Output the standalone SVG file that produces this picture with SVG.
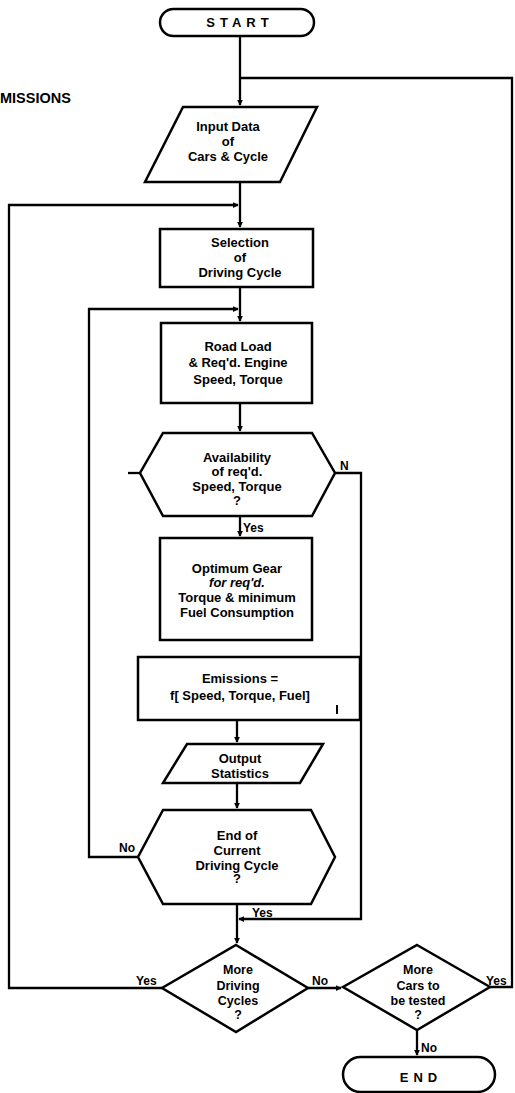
<svg xmlns="http://www.w3.org/2000/svg" width="515" height="1093" viewBox="0 0 515 1093">
<defs>
<style>
.s{fill:#fff;stroke:#000;stroke-width:2.5;stroke-linejoin:miter}
.c{fill:none;stroke:#000;stroke-width:2.3}
.t{font-family:"Liberation Sans",Arial,sans-serif;font-weight:bold;font-size:13px;text-anchor:middle;fill:#000}
.d{font-size:12.5px}
.i{font-style:italic}
.l{font-family:"Liberation Sans",Arial,sans-serif;font-weight:bold;font-size:12px;fill:#000}
</style>
<marker id="a" viewBox="0 0 8 8" refX="7" refY="4" markerWidth="6" markerHeight="6" markerUnits="userSpaceOnUse" orient="auto">
<path d="M0,0 L8,4 L0,8 Z" fill="#000"/>
</marker>
</defs>
<rect width="515" height="1093" fill="#fff"/>
<text class="l" x="0" y="103" style="font-size:14.5px">MISSIONS</text>
<g id="connectors">
<path class="c" d="M240,36 V105" marker-end="url(#a)"/>
<path class="c" d="M490,987 H512 V78 H240"/>
<path class="c" d="M240,182 V227" marker-end="url(#a)"/>
<path class="c" d="M162,988 H9 V205 H238" marker-end="url(#a)"/>
<path class="c" d="M240,287 V321" marker-end="url(#a)"/>
<path class="c" d="M138,857 H89 V309 H238" marker-end="url(#a)"/>
<path class="c" d="M240,403 V431" marker-end="url(#a)"/>
<path class="c" d="M240,516 V536" marker-end="url(#a)"/>
<path class="c" d="M335,473 H361 V919 H239" marker-end="url(#a)"/>
<path class="c" d="M128,473 H140"/>
<path class="c" d="M237,720 V742" marker-end="url(#a)"/>
<path class="c" d="M237,783 V808" marker-end="url(#a)"/>
<path class="c" d="M237,904 V943" marker-end="url(#a)"/>
<path class="c" d="M308,988 H341" marker-end="url(#a)"/>
<path class="c" d="M417,1030 V1055" marker-end="url(#a)"/>
</g>
<g id="start">
<rect class="s" x="160" y="9" width="154" height="27" rx="13.5"/>
<text class="t" x="240" y="27" letter-spacing="5">START</text>
</g>
<g id="input">
<polygon class="s" points="183,107 317,107 280,182 145,182"/>
<text class="t" x="228" y="131">Input Data</text>
<text class="t" x="228" y="146">of</text>
<text class="t" x="228" y="161">Cars &amp; Cycle</text>
</g>
<g id="selection">
<rect class="s" x="160" y="229" width="153" height="58"/>
<text class="t" x="240" y="247">Selection</text>
<text class="t" x="240" y="262">of</text>
<text class="t" x="240" y="277">Driving Cycle</text>
</g>
<g id="roadload">
<rect class="s" x="161" y="323" width="151" height="80"/>
<text class="t" x="238" y="351">Road Load</text>
<text class="t" x="238" y="367">&amp; Req'd. Engine</text>
<text class="t" x="238" y="384">Speed, Torque</text>
</g>
<g id="availability">
<polygon class="s" points="163,433 312,433 335,473 312,516 163,516 140,473"/>
<text class="t" x="237" y="462">Availability</text>
<text class="t" x="237" y="476">of req'd.</text>
<text class="t" x="237" y="491">Speed, Torque</text>
<text class="t" x="237" y="505">?</text>
<text class="l" x="340" y="470">N</text>
<text class="l" x="243" y="532">Yes</text>
</g>
<g id="optimum">
<rect class="s" x="160" y="538" width="152" height="102"/>
<text class="t" x="237" y="573">Optimum Gear</text>
<text class="t i" x="237" y="587">for req'd.</text>
<text class="t" x="237" y="602">Torque &amp; minimum</text>
<text class="t" x="237" y="617">Fuel Consumption</text>
</g>
<g id="emissions">
<rect class="s" x="138" y="657" width="222" height="63"/>
<text class="t" x="240" y="683">Emissions =</text>
<text class="t" x="240" y="700">f[ Speed, Torque, Fuel]</text>
<line x1="337" y1="705" x2="337" y2="714" stroke="#000" stroke-width="2"/>
</g>
<g id="output">
<polygon class="s" points="187,744 323,744 300,783 163,783"/>
<text class="t" x="240" y="763">Output</text>
<text class="t" x="240" y="778">Statistics</text>
</g>
<g id="endcycle">
<polygon class="s" points="163,810 311,810 335,857 311,904 163,904 138,857"/>
<text class="t" x="237" y="840">End of</text>
<text class="t" x="237" y="855">Current</text>
<text class="t" x="237" y="870">Driving Cycle</text>
<text class="t" x="237" y="883">?</text>
<text class="l" x="119" y="852">No</text>
<text class="l" x="252" y="917">Yes</text>
</g>
<g id="moredriving">
<polygon class="s" points="236,945 308,988 236,1032 162,988"/>
<text class="t d" x="238" y="974">More</text>
<text class="t d" x="238" y="990">Driving</text>
<text class="t d" x="238" y="1005">Cycles</text>
<text class="t d" x="238" y="1019">?</text>
<text class="l" x="136" y="985">Yes</text>
<text class="l" x="312" y="985">No</text>
</g>
<g id="morecars">
<polygon class="s" points="417,945 490,987 417,1030 343,987"/>
<text class="t d" x="418" y="974">More</text>
<text class="t d" x="418" y="990">Cars to</text>
<text class="t d" x="418" y="1005">be tested</text>
<text class="t d" x="418" y="1019">?</text>
<text class="l" x="486" y="985">Yes</text>
<text class="l" x="421" y="1052">No</text>
</g>
<g id="end">
<rect class="s" x="343" y="1057" width="152" height="35" rx="17.5"/>
<text class="t" x="421" y="1082" letter-spacing="5">END</text>
</g>
</svg>
